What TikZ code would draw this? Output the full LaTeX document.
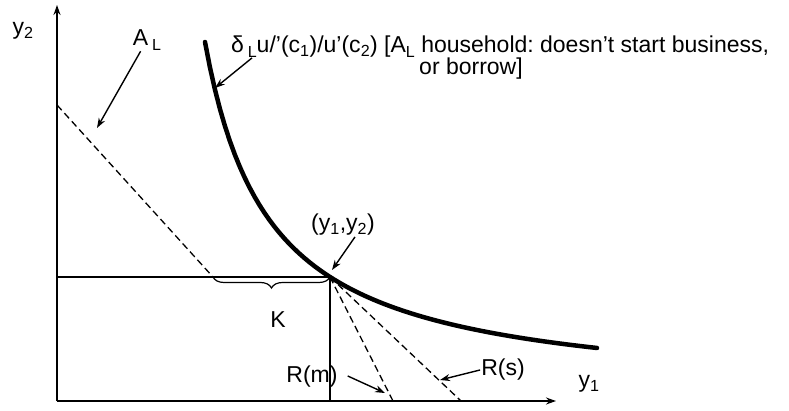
\documentclass[tikz,border=0pt]{standalone}
\usepackage{fontspec}
\setmainfont{Liberation Sans}
\usetikzlibrary{arrows.meta,decorations.pathreplacing}
\frenchspacing

\begin{document}
\begin{tikzpicture}[
    x=1pt, y=-1pt, >={Stealth[length=10pt,width=7pt]},
    every node/.style={font=\fontsize{23}{26}\selectfont, inner sep=1pt},
    axis/.style={->, line width=1.5pt},
    thin line/.style={line width=1.1pt},
    budget/.style={dash pattern=on 7pt off 4pt, line width=1.3pt},
    pointer/.style={->, line width=1.4pt}]

    \useasboundingbox (0,0) rectangle (789,411);

    % Define points
    \coordinate (O) at (57,401);
    \coordinate (ytop) at (57,5);
    \coordinate (xend) at (556,401);
    \coordinate (T) at (330,277);
    \coordinate (H) at (57,277);
    \coordinate (V) at (330,401);
    \coordinate (ALtop) at (57,105);
    \coordinate (ALend) at (213,277);
    \coordinate (Rm) at (393,401);
    \coordinate (Rs) at (461,401);

    % Draw axes
    \draw[axis] (O) -- (ytop);
    \draw[axis] (O) -- (xend);

    % Draw lines through the endowment point
    \draw[thin line] (H) -- (T) -- (V);
    \draw[budget] (ALtop) -- (ALend);
    \draw[budget] (T) -- (Rm);
    \draw[budget] (T) -- (Rs);
    \draw[line width=1.2pt, decorate, decoration={brace, mirror, amplitude=11pt}]
        (ALend) -- (T);

    % Draw indifference curve
    \draw[line width=4.5pt, line cap=round]
        plot[domain=205:597, samples=80] (\x, {398.4 - 230.23/((\x-140.4)/100)});

    % Define labels
    \node (ylbl2) at (23,31) {y\textsubscript{2}};
    \node (ylbl1) at (589,384) {y\textsubscript{1}};
    \node (ALlbl) at (147,40) {A\,\raisebox{-0.35ex}{\fontsize{16}{18}\selectfont L}};
    \node[anchor=west] (curvelbl) at (230,47)
        {δ\,\raisebox{-0.35ex}{\fontsize{16}{18}\selectfont L}u/'(c\textsubscript{1})/u'(c\textsubscript{2}) [A\raisebox{-0.35ex}{\fontsize{16}{18}\selectfont L} household: doesn't start business,};
    \node (curvelbl2) at (471,69) {or borrow]};
    \node (tanlbl) at (343,225) {(y\textsubscript{1},y\textsubscript{2})};
    \node (Klbl) at (278,320) {K};
    \node (Rmlbl) at (312,377) {R(m)};
    \node (Rslbl) at (503,370) {R(s)};

    % Define arrow targets
    \coordinate (ALpt) at (97,128);
    \coordinate (curvept) at (215,88);
    \coordinate (tanpt) at (332,270);
    \coordinate (Rmpt) at (385,393);
    \coordinate (Rspt) at (440,380);

    % Draw pointers
    \draw[pointer] (ALlbl) -- (ALpt);
    \draw[pointer] ([xshift=22pt, yshift=1pt]curvelbl.south west) -- (curvept);
    \draw[pointer] ([xshift=12pt]tanlbl.south) -- (tanpt);
    \draw[pointer] ([xshift=9pt, yshift=1pt]Rmlbl.east) -- (Rmpt);
    \draw[pointer] (Rslbl.west) -- (Rspt);

\end{tikzpicture}
\end{document}
